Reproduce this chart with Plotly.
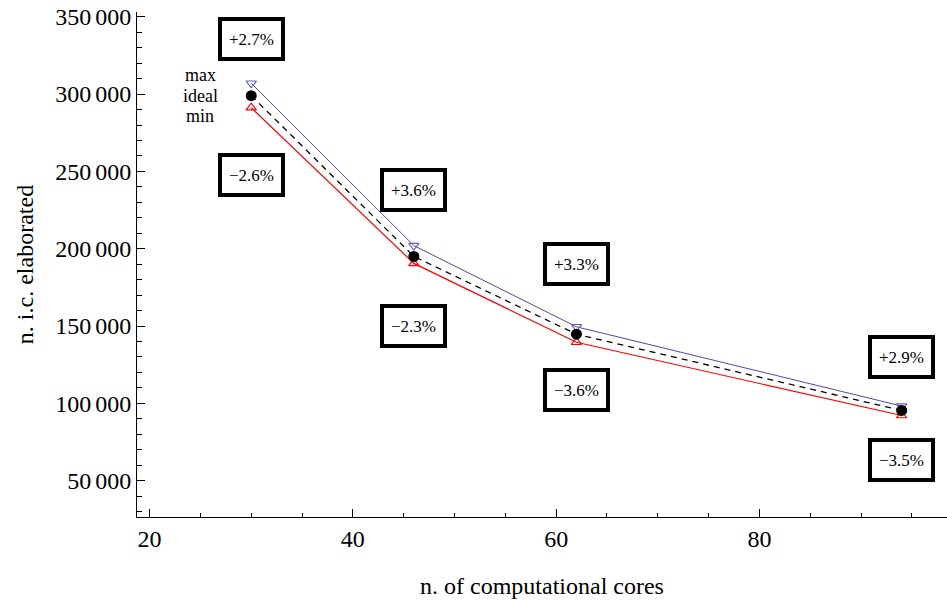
import plotly.graph_objects as go

cores = [30, 46, 62, 94]
ideal = [299000, 195000, 144700, 95400]
max_vals = [307000, 202000, 149500, 98200]
min_vals = [291200, 190500, 139500, 92100]
hi_labels = ["+2.7%", "+3.6%", "+3.3%", "+2.9%"]
lo_labels = ["\u22122.6%", "\u22122.3%", "\u22123.6%", "\u22123.5%"]
legend_lines = ["max", "ideal", "min"]
y_tickvals = [50000, 100000, 150000, 200000, 250000, 300000, 350000]
y_ticktext = ["50\u2006000", "100\u2006000", "150\u2006000", "200\u2006000",
              "250\u2006000", "300\u2006000", "350\u2006000"]
x_tickvals = [20, 40, 60, 80]
x_ticktext = ["20", "40", "60", "80"]

# label box placement (data coords)
hi_label_y = [335500, 237800, 189900, 129800]
lo_label_y = [247500, 149800, 108400, 63100]

FONT = "Liberation Serif, Times New Roman, serif"

fig = go.Figure()
fig.add_trace(go.Scatter(
    x=cores, y=max_vals, mode="lines+markers",
    line=dict(color="#4a4aaa", width=1),
    marker=dict(symbol="triangle-down-open", size=9, color="#6464c0", line=dict(width=1.2)),
    showlegend=False))
fig.add_trace(go.Scatter(
    x=cores, y=min_vals, mode="lines+markers",
    line=dict(color="#ff0000", width=1.2),
    marker=dict(symbol="triangle-up-open", size=9, color="#ff0000", line=dict(width=1.2)),
    showlegend=False))
fig.add_trace(go.Scatter(
    x=cores, y=ideal, mode="lines+markers",
    line=dict(color="black", width=1.3, dash="6px,5px"),
    marker=dict(symbol="circle", size=11, color="black"),
    showlegend=False))

annotations = []
for x, y, t in zip(cores, hi_label_y, hi_labels):
    annotations.append(dict(x=x, y=y, xref="x", yref="y", text=t, showarrow=False,
                            font=dict(family=FONT, size=17, color="black"),
                            bgcolor="white", bordercolor="black", borderwidth=4,
                            borderpad=3, width=53, height=30))
for x, y, t in zip(cores, lo_label_y, lo_labels):
    annotations.append(dict(x=x, y=y, xref="x", yref="y", text=t, showarrow=False,
                            font=dict(family=FONT, size=17, color="black"),
                            bgcolor="white", bordercolor="black", borderwidth=4,
                            borderpad=3, width=53, height=30))
for i, t in enumerate(legend_lines):
    annotations.append(dict(x=25, y=ideal[0], xref="x", yref="y", text=t,
                            showarrow=False, yshift=20.5 * (1 - i),
                            font=dict(family=FONT, size=18, color="black")))

fig.update_layout(
    width=947, height=602,
    margin=dict(l=137, r=0, t=12, b=85),
    paper_bgcolor="white", plot_bgcolor="white",
    font=dict(family=FONT, color="black"),
    annotations=annotations,
    xaxis=dict(
        range=[18.76, 98.46], showgrid=False, zeroline=False,
        showline=True, linecolor="black", linewidth=1,
        tickvals=x_tickvals, ticktext=x_ticktext,
        ticks="inside", ticklen=8, tickcolor="black", tickwidth=1,
        tickfont=dict(family=FONT, size=24, color="black"),
        minor=dict(dtick=5, tick0=0, ticks="inside", ticklen=4, tickcolor="black", showgrid=False),
        title=dict(text="n. of computational cores", font=dict(family=FONT, size=24, color="black"),
                   standoff=26),
    ),
    yaxis=dict(
        range=[26460, 353100], showgrid=False, zeroline=False,
        showline=True, linecolor="black", linewidth=1,
        tickvals=y_tickvals, ticktext=y_ticktext,
        ticks="inside", ticklen=8, tickcolor="black", tickwidth=1,
        tickfont=dict(family=FONT, size=24, color="black"),
        minor=dict(dtick=10000, tick0=0, ticks="inside", ticklen=5, tickcolor="black", showgrid=False),
        title=dict(text="n. i.c. elaborated", font=dict(family=FONT, size=24, color="black"),
                   standoff=14),
    ),
)

fig.write_html("out.html")
